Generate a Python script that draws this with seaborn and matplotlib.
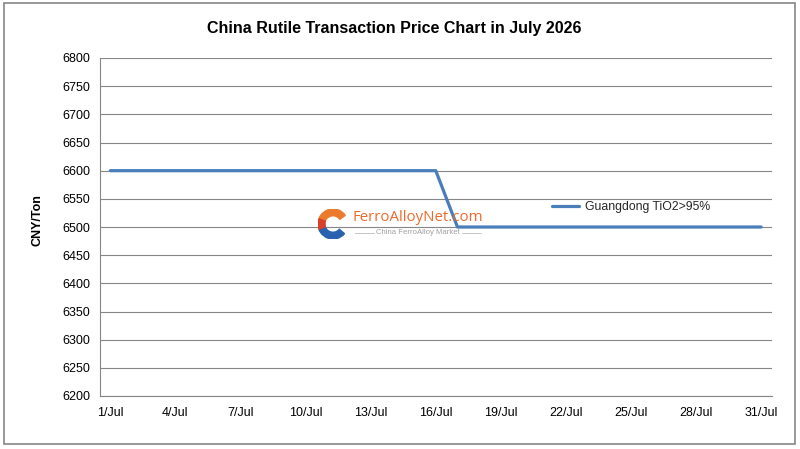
import matplotlib
matplotlib.use("Agg")
import matplotlib.pyplot as plt
from matplotlib.patches import Rectangle, Wedge
import pandas as pd
import seaborn as sns

# Daily price, Guangdong TiO2>95% (CNY/Ton)
days = list(range(1, 32))
prices = [6600, 6600, 6600, 6600, 6600, 6600, 6600, 6600, 6600, 6600,
          6600, 6600, 6600, 6600, 6600, 6600, 6500, 6500, 6500, 6500,
          6500, 6500, 6500, 6500, 6500, 6500, 6500, 6500, 6500, 6500,
          6500]
tick_days = [1, 4, 7, 10, 13, 16, 19, 22, 25, 28, 31]
tick_labels = [f"{d}/Jul" for d in tick_days]
series_name = "Guangdong TiO2>95%"

df = pd.DataFrame({"day": days, "price": prices})

sns.set_style("white")
plt.rcParams["font.family"] = ["Liberation Sans", "DejaVu Sans"]

fig = plt.figure(figsize=(8, 4.49), dpi=100)
ax = fig.add_axes([99.5 / 800, 1 - 396 / 449, (772 - 99.5) / 800, (396 - 58) / 449])

sns.lineplot(data=df, x="day", y="price", ax=ax, color="#4a7ebb",
             linewidth=2.3, label=series_name)

ax.set_xlim(0.5, 31.5)
ax.set_ylim(6200, 6800)
ax.set_yticks(range(6200, 6801, 50))
ax.set_xticks(tick_days)
ax.set_xticklabels(tick_labels)
ax.tick_params(axis="both", labelsize=9, length=0, colors="black")
ax.tick_params(axis="x", pad=8)
ax.tick_params(axis="y", pad=6.5)
ax.grid(axis="y", color="#868686", linewidth=0.8)
ax.set_axisbelow(True)
for side in ["top", "right"]:
    ax.spines[side].set_visible(False)
for side in ["left", "bottom"]:
    ax.spines[side].set_color("#868686")
    ax.spines[side].set_linewidth(0.8)

ax.set_xlabel("")
ax.set_ylabel("CNY/Ton", fontsize=9, fontweight="bold", color="black")
ax.yaxis.set_label_coords(-0.084, 0.522)

fig.text(0.493, 1 - 28 / 449, "China Rutile Transaction Price Chart in July 2026",
         ha="center", va="center", fontsize=11.5, fontweight="bold", color="black")

ax.legend(loc="center left", bbox_to_anchor=(541 / 800, 1 - 207 / 449),
          bbox_transform=fig.transFigure, frameon=False, fontsize=8.8,
          handlelength=2.2, handletextpad=0.5)

# watermark
cx, cy, r = 333 / 800, 1 - 224 / 449, 15
wtr = fig.transFigure
logo_ax = fig.add_axes([cx - r / 800, cy - r / 449, 2 * r / 800, 2 * r / 449])
logo_ax.set_xlim(-1, 1)
logo_ax.set_ylim(-1, 1)
logo_ax.axis("off")
logo_ax.add_patch(Wedge((0, 0), 1, 35, 180, width=0.45, color="#ec7a2c"))
logo_ax.add_patch(Wedge((0, 0), 1, 180, 320, width=0.45, color="#2a62b0"))
logo_ax.add_patch(Wedge((0, 0), 1, 160, 200, width=0.45, color="#d8402c"))
fig.text(353 / 800, 1 - 217 / 449, "FerroAlloyNet.com", ha="left", va="center",
         fontsize=10.8, color="#ec6a2c", family=["Open Sans", "DejaVu Sans"])
fig.text(418 / 800, 1 - 233 / 449, "China FerroAlloy Market", ha="center",
         va="center", fontsize=5.6, color="#a0a0a0")
fig.lines.append(plt.Line2D([355 / 800, 374 / 800], [1 - 233 / 449] * 2,
                            transform=wtr, color="#bbbbbb", linewidth=0.6))
fig.lines.append(plt.Line2D([462 / 800, 481 / 800], [1 - 233 / 449] * 2,
                            transform=wtr, color="#bbbbbb", linewidth=0.6))

fig.patches.append(Rectangle((4 / 800, 1 - 444 / 449), 791 / 800, 441 / 449,
                             transform=wtr, fill=False, edgecolor="#868686",
                             linewidth=1.2))

fig.savefig("out.png", dpi=100)
